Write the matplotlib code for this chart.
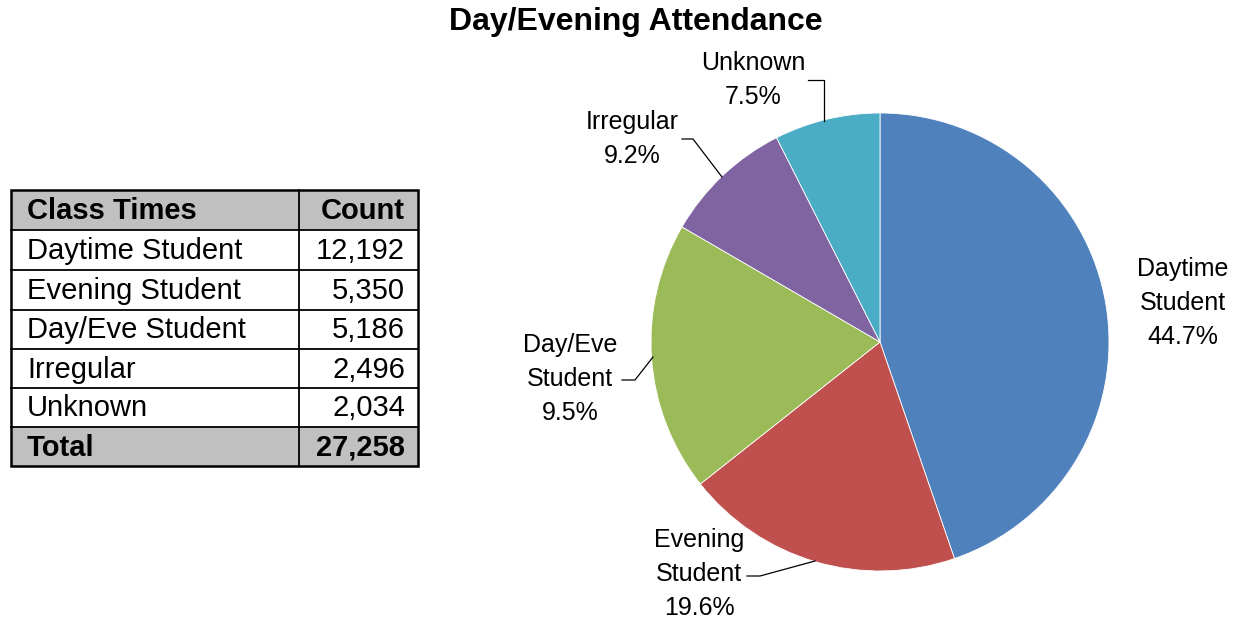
import matplotlib.pyplot as plt
from matplotlib.patches import Rectangle

plt.rcParams['font.family'] = ['Liberation Sans', 'DejaVu Sans']

categories = ["Daytime Student", "Evening Student", "Day/Eve Student", "Irregular", "Unknown"]
counts = [12192, 5350, 5186, 2496, 2034]
total = 27258
pie_labels = ["Daytime\nStudent", "Evening\nStudent", "Day/Eve\nStudent", "Irregular", "Unknown"]
pct_labels = ["44.7%", "19.6%", "9.5%", "9.2%", "7.5%"]
colors = ["#4F81BD", "#C0504D", "#9BBB59", "#8064A2", "#4BACC6"]

W, H = 1240, 622
fig = plt.figure(figsize=(W / 100, H / 100), dpi=100)
ax = fig.add_axes([0, 0, 1, 1])


def Y(y):
    # image row -> plot y
    return H - y


# title
ax.text(636, Y(22), "Day/Evening Attendance", ha='center', va='center',
        fontsize=23, fontweight='bold')

# pie, clockwise from 12 o'clock
ax.pie(counts, colors=colors, startangle=90, counterclock=False,
       center=(880, Y(342)), radius=229, frame=True,
       wedgeprops=dict(edgecolor='white', linewidth=0.6))
ax.set_xlim(0, W)
ax.set_ylim(0, H)
ax.set_aspect('auto')
ax.axis('off')

lbl_kw = dict(ha='center', va='center', fontsize=18, linespacing=1.52)
# (x, y) of label centre, leader polyline in image coords
label_layout = [
    ((1183, 303), None),
    ((699, 574), [(747, 576), (760, 576), (815, 561)]),
    ((570, 379), [(622, 380), (635, 380), (653, 357)]),
    ((632, 139), [(682, 139), (693, 139), (722, 177)]),
    ((753, 80), [(808, 80), (824, 80), (824, 121)]),
]
for name, pct, (pos, leader) in zip(pie_labels, pct_labels, label_layout):
    ax.text(pos[0], Y(pos[1]), name + "\n" + pct, **lbl_kw)
    if leader:
        xs = [p[0] for p in leader]
        ys = [Y(p[1]) for p in leader]
        ax.plot(xs, ys, color='black', lw=0.9)

# table
x0, xm, x1 = 11, 299, 418
rows_y = [190, 230, 270, 310, 349, 388, 427, 466]
header = ["Class Times", "Count"]
body = [(c, f"{v:,}") for c, v in zip(categories, counts)]
footer = ("Total", f"{total:,}")
all_rows = [header] + body + [footer]

for i, (left, right) in enumerate(all_rows):
    top, bot = rows_y[i], rows_y[i + 1]
    bold = i == 0 or i == len(all_rows) - 1
    if bold:
        ax.add_patch(Rectangle((x0, Y(bot)), x1 - x0, bot - top,
                               facecolor='#C0C0C0', edgecolor='none'))
    yc = Y((top + bot) / 2 + 1)
    fw = 'bold' if bold else 'normal'
    ax.text(27, yc, left, ha='left', va='center', fontsize=21, fontweight=fw)
    ax.text(405, yc, right, ha='right', va='center', fontsize=21, fontweight=fw)

for y in rows_y[1:-1]:
    ax.plot([x0, x1], [Y(y), Y(y)], color='black', lw=1.3)
ax.plot([xm, xm], [Y(rows_y[0]), Y(rows_y[-1])], color='black', lw=1.3)
ax.add_patch(Rectangle((x0, Y(rows_y[-1])), x1 - x0, rows_y[-1] - rows_y[0],
                       facecolor='none', edgecolor='black', lw=1.8))

fig.savefig("out.png", dpi=100)
